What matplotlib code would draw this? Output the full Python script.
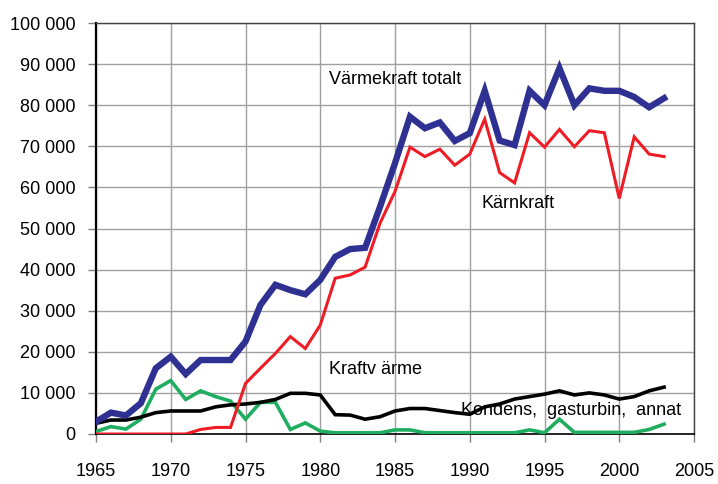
import numpy as np
import matplotlib.pyplot as plt
from matplotlib.ticker import FuncFormatter

# --- Data ---
years = list(range(1965, 2004))

varmekraft_totalt = [3.0, 5.2, 4.5, 7.5, 16.0, 18.8, 14.6, 18.0, 18.0, 18.0,
                     22.5, 31.4, 36.3, 35.0, 34.0, 37.5, 43.1, 45.0, 45.3, 55.3,
                     65.9, 77.2, 74.4, 75.8, 71.3, 73.2, 83.5, 71.4, 70.3, 83.5,
                     80.0, 89.0, 80.0, 84.1, 83.5, 83.5, 82.0, 79.5, 81.7]

karnkraft = [0.0, 0.0, 0.0, 0.0, 0.0, 0.0, 0.0, 1.1, 1.6, 1.6,
             12.3, 16.0, 19.6, 23.7, 20.8, 26.5, 37.9, 38.7, 40.6, 51.3,
             59.0, 69.8, 67.5, 69.3, 65.4, 68.1, 76.6, 63.6, 61.1, 73.3,
             69.8, 74.1, 69.9, 73.8, 73.3, 57.3, 72.3, 68.1, 67.5]

kraftvarme = [2.6, 3.4, 3.4, 4.1, 5.2, 5.6, 5.6, 5.6, 6.6, 7.1,
              7.3, 7.7, 8.4, 9.9, 9.9, 9.5, 4.7, 4.6, 3.6, 4.2,
              5.6, 6.2, 6.2, 5.7, 5.2, 4.8, 6.6, 7.3, 8.5, 9.1,
              9.7, 10.5, 9.5, 10.0, 9.5, 8.5, 9.1, 10.5, 11.4]

kondens = [0.6, 1.8, 1.2, 3.6, 10.9, 13.0, 8.4, 10.5, 9.1, 8.0,
           3.6, 7.7, 7.7, 1.1, 2.7, 0.7, 0.3, 0.3, 0.3, 0.3,
           1.0, 1.0, 0.3, 0.3, 0.3, 0.3, 0.3, 0.3, 0.3, 1.0,
           0.3, 3.6, 0.4, 0.4, 0.4, 0.4, 0.4, 1.1, 2.4]

# values in GWh (thousands above)
varmekraft_totalt = np.array(varmekraft_totalt) * 1000
karnkraft = np.array(karnkraft) * 1000
kraftvarme = np.array(kraftvarme) * 1000
kondens = np.array(kondens) * 1000

plt.rcParams['font.family'] = ['Liberation Sans', 'DejaVu Sans']

fig = plt.figure(figsize=(7.18, 4.84), dpi=100)
ax = fig.add_axes([96 / 718, 1 - 434 / 484, (694 - 96) / 718, (434 - 23) / 484])

ax.plot(years, kondens, color='#1fae5f', lw=2.6, solid_joinstyle='miter', zorder=3)
ax.plot(years, kraftvarme, color='black', lw=2.6, solid_joinstyle='miter', zorder=4)
ax.plot(years, karnkraft, color='#ee1c25', lw=2.2, solid_joinstyle='miter', zorder=5)
ax.plot(years, varmekraft_totalt, color='#2e3192', lw=4.6, solid_joinstyle='miter', zorder=6)

ax.text(1980.6, 86200, 'Värmekraft totalt', fontsize=13, va='center', ha='left')
ax.text(1990.8, 56200, 'Kärnkraft', fontsize=13, va='center', ha='left')
ax.text(1980.6, 15800, 'Kraftv ärme', fontsize=13, va='center', ha='left')
ax.text(1989.4, 5800, 'Kondens,  gasturbin,  annat', fontsize=13, va='center', ha='left', zorder=7)

ax.set_xlim(1965, 2005)
ax.set_ylim(0, 100000)
ax.set_xticks(range(1965, 2006, 5))
ax.set_yticks(range(0, 100001, 10000))
ax.yaxis.set_major_formatter(FuncFormatter(lambda v, p: f'{int(v):,}'.replace(',', ' ')))

ax.grid(True, color='#a0a0a0', lw=1.0)
ax.set_axisbelow(True)

for s in ['top', 'right']:
    ax.spines[s].set_color('#404040')
    ax.spines[s].set_linewidth(1.0)
ax.spines['left'].set_linewidth(1.6)
ax.spines['bottom'].set_linewidth(1.2)

ax.tick_params(axis='both', labelsize=13, length=6, color='#808080', width=1.0)
ax.tick_params(axis='y', pad=9)
ax.tick_params(axis='x', pad=15)

fig.savefig('out.png', dpi=100)
